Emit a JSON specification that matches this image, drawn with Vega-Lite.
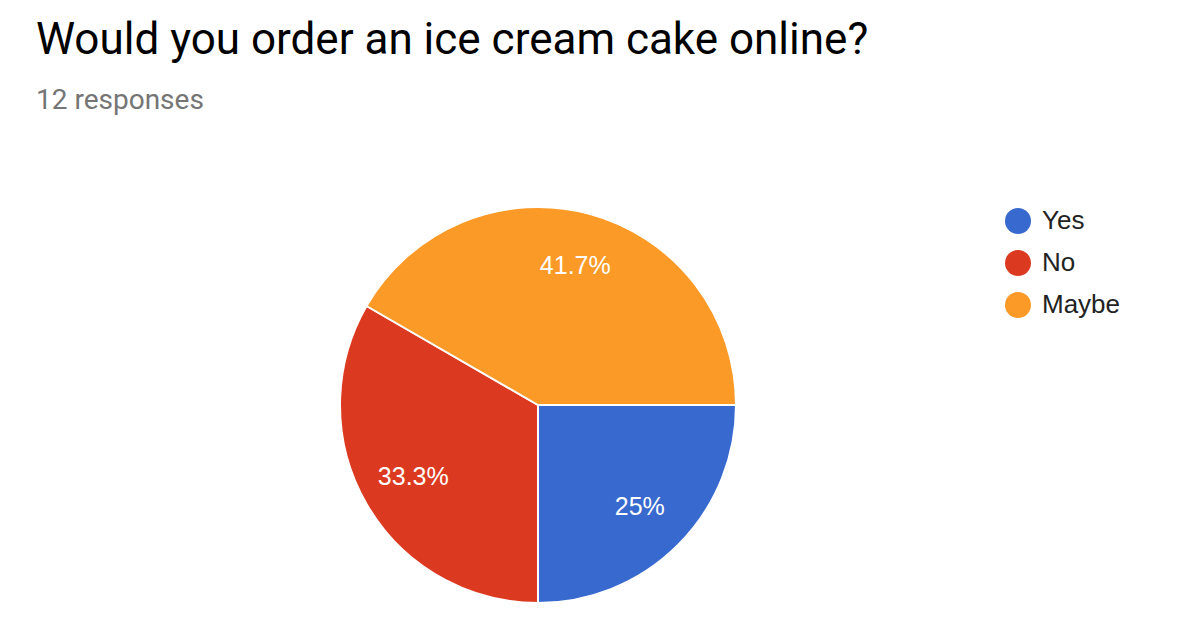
{
  "$schema": "https://vega.github.io/schema/vega-lite/v6.json",
  "autosize": {"type": "none"},
  "width": 1076,
  "height": 396,
  "padding": {"left": 0, "top": 207, "right": 104, "bottom": 27},
  "background": "white",
  "title": {
    "text": "Would you order an ice cream cake online?",
    "subtitle": "12 responses",
    "anchor": "start",
    "frame": "group",
    "dx": 36,
    "offset": 88,
    "font": "Roboto",
    "fontSize": 44,
    "fontWeight": "normal",
    "color": "#000000",
    "subtitleFont": "Roboto",
    "subtitleFontSize": 28,
    "subtitleColor": "#757575",
    "subtitlePadding": 24
  },
  "data": {
    "values": [
      {"answer": "Yes", "count": 3, "order": 1, "label": "25%"},
      {"answer": "No", "count": 4, "order": 2, "label": "33.3%"},
      {"answer": "Maybe", "count": 5, "order": 3, "label": "41.7%"}
    ]
  },
  "encoding": {
    "theta": {"field": "count", "type": "quantitative", "stack": true, "scale": {"range": [1.5707963, 7.8539816]}},
    "order": {"field": "order", "type": "quantitative"},
    "color": {
      "field": "answer",
      "type": "nominal",
      "sort": ["Yes", "No", "Maybe"],
      "scale": {"domain": ["Yes", "No", "Maybe"], "range": ["#3769CE", "#DC3A20", "#FC9A28"]},
      "legend": {
        "title": null,
        "orient": "none",
        "legendX": 1005,
        "legendY": 1,
        "padding": 0,
        "symbolType": "circle",
        "symbolSize": 676,
        "symbolStrokeWidth": 0,
        "symbolOpacity": 1,
        "rowPadding": 16,
        "labelOffset": 11,
        "labelFont": "Liberation Sans",
        "labelFontSize": 26,
        "labelColor": "#222222"
      }
    }
  },
  "layer": [
    {
      "mark": {"type": "arc", "outerRadius": 198, "stroke": "white", "strokeWidth": 2}
    },
    {
      "mark": {"type": "text", "radius": 144, "font": "Liberation Sans", "fontSize": 25, "color": "white", "fill": "white", "align": "center", "baseline": "middle"},
      "encoding": {
        "text": {"field": "label", "type": "nominal"},
        "color": {"value": "white"}
      }
    }
  ],
  "config": {"view": {"stroke": null}}
}
